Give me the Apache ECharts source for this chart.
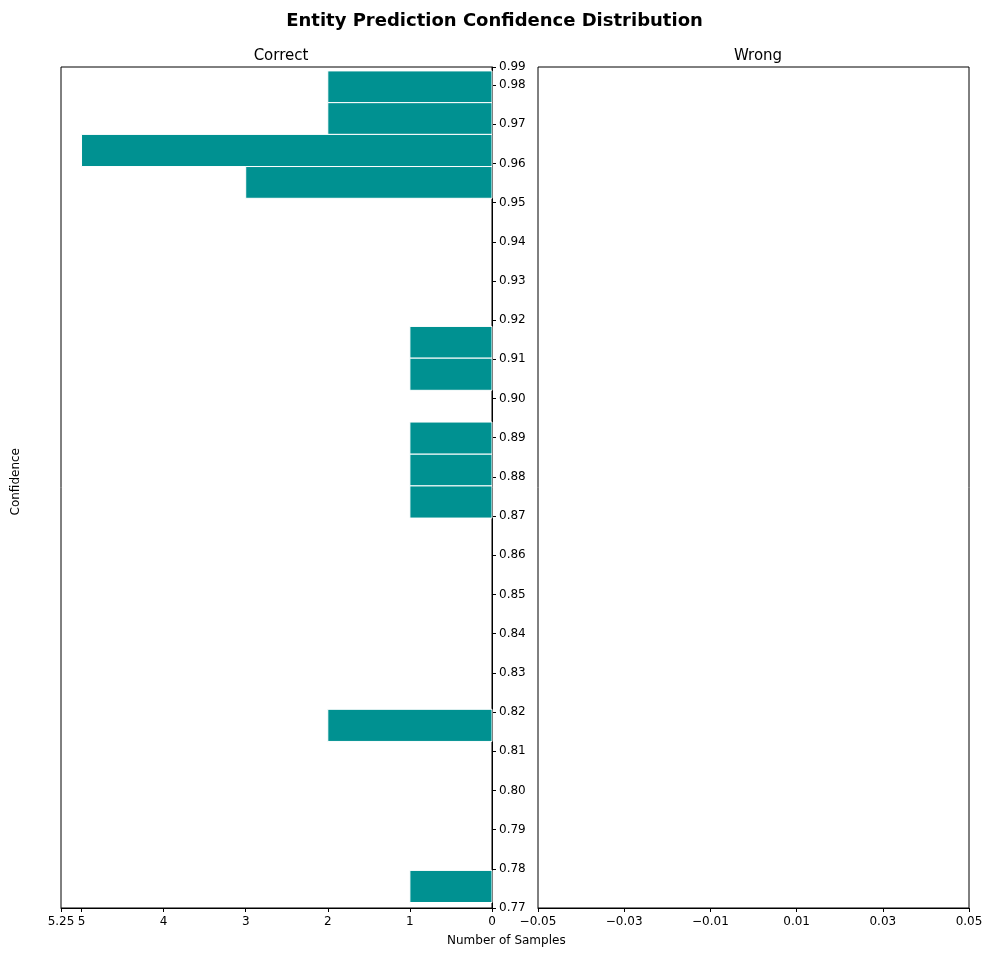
<!DOCTYPE html>
<html>
<head>
<meta charset="utf-8">
<script src="https://cdn.jsdelivr.net/npm/echarts@6/dist/echarts.min.js"></script>
<style>html,body{margin:0;padding:0;background:#fff}#main{width:989px;height:961px}</style>
</head>
<body>
<div id="main"></div>
<script>
// histogram bins (lower edge, upper edge) and counts of correct predictions
var binLow  = [0.9778, 0.9697, 0.9615, 0.9534, 0.9126, 0.9044, 0.8881, 0.8800, 0.8718, 0.8148, 0.7737];
var binHigh = [0.9859, 0.9778, 0.9697, 0.9615, 0.9207, 0.9126, 0.8963, 0.8881, 0.8800, 0.8230, 0.7819];
var counts  = [2, 2, 5, 3, 1, 1, 1, 1, 1, 2, 1];
var yMin = 0.7723, yMax = 0.9869;

var data = binLow.map(function (lo, i) { return [counts[i], lo, binHigh[i]]; });

var font = 'DejaVu Sans';
var chart = echarts.init(document.getElementById('main'));
chart.setOption({
    animation: false,
    textStyle: {fontFamily: font},
    title: [
        {text: 'Entity Prediction Confidence Distribution', left: 'center', top: 7,
         textStyle: {fontSize: 18, fontWeight: 'bold', color: '#000', fontFamily: font}},
        {text: 'Correct', left: 276, top: 44, textAlign: 'center',
         textStyle: {fontSize: 15, fontWeight: 'normal', color: '#000', fontFamily: font}},
        {text: 'Wrong', left: 753, top: 44, textAlign: 'center',
         textStyle: {fontSize: 15, fontWeight: 'normal', color: '#000', fontFamily: font}}
    ],
    graphic: [
        {type: 'text', left: 10, top: 448, rotation: Math.PI / 2,
         style: {text: 'Confidence', fontSize: 12, fill: '#000', fontFamily: font}},
        {type: 'text', left: 447, top: 935,
         style: {text: 'Number of Samples', fontSize: 12, fill: '#000', fontFamily: font}}
    ],
    grid: [
        {left: 61, top: 67, width: 431, height: 841, show: true, borderColor: '#000', borderWidth: 1},
        {left: 538, top: 67, width: 431, height: 841, show: true, borderColor: '#000', borderWidth: 1}
    ],
    xAxis: [
        {gridIndex: 0, type: 'value', inverse: true, min: 0, max: 5.25, interval: 1,
         splitLine: {show: false}, showMaxLabel: false,
         axisLine: {show: true, lineStyle: {color: '#000'}},
         axisTick: {show: true, length: 4, lineStyle: {color: '#000'}},
         axisLabel: {color: '#000', fontSize: 12, margin: 8}},
        {gridIndex: 1, type: 'value', min: -0.05, max: 0.05, interval: 0.02,
         splitLine: {show: false}, showMinLabel: false, showMaxLabel: false,
         axisLine: {show: true, lineStyle: {color: '#000'}},
         axisTick: {show: true, length: 4, lineStyle: {color: '#000'}},
         axisLabel: {color: '#000', fontSize: 12, margin: 8,
                     formatter: function (v) {
                         var s = v.toFixed(2);
                         return v < 0 ? '\u2212' + s.slice(1) : s;
                     }}}
    ],
    yAxis: [
        {gridIndex: 0, type: 'value', position: 'right', min: yMin, max: yMax, interval: 0.01,
         splitLine: {show: false}, showMinLabel: false, showMaxLabel: false,
         axisLine: {show: true, lineStyle: {color: '#000'}},
         axisTick: {show: true, inside: false, length: 4, lineStyle: {color: '#000'}},
         axisLabel: {color: '#000', fontSize: 12, margin: 7,
                     formatter: function (v) { return v.toFixed(2); }}},
        {gridIndex: 1, type: 'value', min: yMin, max: yMax, show: false, splitLine: {show: false}}
    ],
    series: [{
        type: 'custom',
        xAxisIndex: 0, yAxisIndex: 0,
        data: data,
        encode: {x: 0, y: [1, 2]},
        renderItem: function (params, api) {
            var a = api.coord([0, api.value(2)]);
            var b = api.coord([api.value(0), api.value(1)]);
            return {
                type: 'rect',
                shape: {x: Math.min(a[0], b[0]), y: a[1], width: Math.abs(b[0] - a[0]), height: b[1] - a[1]},
                style: {fill: '#009191', stroke: '#ffffff', lineWidth: 1}
            };
        }
    }]
});
</script>
</body>
</html>
